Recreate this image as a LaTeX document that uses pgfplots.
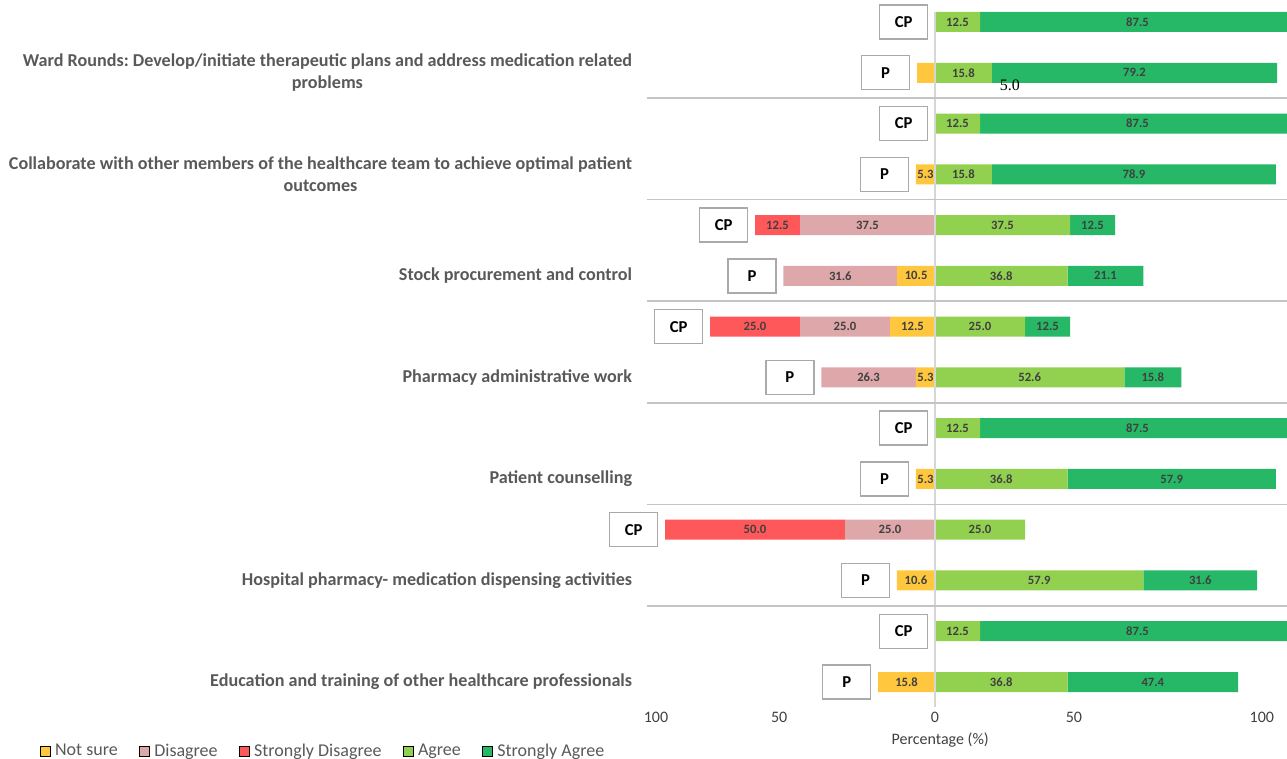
\documentclass[border=0pt]{standalone}
\usepackage{pgfplots}
\pgfplotsset{compat=1.18}
\usepackage{pgfplotstable}
\usepackage{fontspec}
\setmainfont{Carlito}
\newfontfamily\seriffont{Liberation Serif}
\frenchspacing

\definecolor{notsure}{RGB}{255,199,62}
\definecolor{disagree}{RGB}{222,167,169}
\definecolor{sdisagree}{RGB}{255,88,90}
\definecolor{agree}{RGB}{146,208,80}
\definecolor{sagree}{RGB}{38,184,102}
\definecolor{labgray}{RGB}{89,89,89}
\definecolor{valgray}{RGB}{64,64,64}
\definecolor{sepgray}{RGB}{196,196,196}
\definecolor{zerogray}{RGB}{214,214,214}
\definecolor{boxgray}{RGB}{170,170,170}

% one row per bar, counted from the bottom: even y = P, odd y = CP
\pgfplotstableread{
y   NS    D     SD
0   15.8  0     0
1   0     0     0
2   10.6  0     0
3   0     25.0  50.0
4   5.3   0     0
5   0     0     0
6   5.3   26.3  0
7   12.5  25.0  25.0
8   10.5  31.6  0
9   0     37.5  12.5
10  5.3   0     0
11  0     0     0
12  5.0   0     0
13  0     0     0
}\leftdata

\pgfplotstableread{
y   A     SA
0   36.8  47.4
1   12.5  87.5
2   57.9  31.6
3   25.0  0
4   36.8  57.9
5   12.5  87.5
6   52.6  15.8
7   25.0  12.5
8   36.8  21.1
9   37.5  12.5
10  15.8  78.9
11  12.5  87.5
12  15.8  79.2
13  12.5  87.5
}\rightdata

% group boxes, right edge at the left end of each bar
\pgfplotstableread{
y   x      lab
0   -15.8  P
1   0      CP
2   -10.6  P
3   -75.0  CP
4   -5.3   P
5   0      CP
6   -31.6  P
7   -62.5  CP
8   -42.1  P
9   -50.0  CP
10  -5.3   P
11  0      CP
12  -5.0   P
13  0      CP
}\boxdata

\pgfplotsset{
  /pgf/number format/assume math mode=true,
  % the axis runs past the right edge of the page, which crops the 100 bars
  frame/.style={
    at={(485.25pt,39pt)}, anchor=south west,
    scale only axis, width=491.4pt, height=521.25pt,
    xmin=-80, xmax=102, ymin=-0.492, ymax=13.197,
  },
  bars/.style={
    frame, hide axis,
    xbar stacked, bar width=15pt,
    point meta=explicit,
    nodes near coords={\pgfmathfloatifflags{\pgfplotspointmeta}{0}{}{\pgfmathprintnumber[fixed,fixed zerofill,precision=1]{\pgfplotspointmeta}}},
    nodes near coords style={font=\bfseries\fontsize{9.5}{11}\selectfont, text=valgray},
  },
}

\begin{document}
\begin{tikzpicture}
% left half: not sure, disagree, strongly disagree
\begin{axis}[bars]
  % the thin 5.0 segment (y=12) has its label outside the bar
  \addplot[fill=notsure, draw=none]
    table[x expr=-\thisrow{NS}, y=y, meta expr={\thisrow{NS}*(\thisrow{y}!=12)}] {\leftdata};
  \addplot[fill=disagree, draw=none]
    table[x expr=-\thisrow{D}, y=y, meta=D] {\leftdata};
  \addplot[fill=sdisagree, draw=none]
    table[x expr=-\thisrow{SD}, y=y, meta=SD] {\leftdata};
\end{axis}
% right half: agree, strongly agree
\begin{axis}[bars]
  \addplot[fill=agree, draw=none]
    table[x=A, y=y, meta=A] {\rightdata};
  \addplot[fill=sagree, draw=none]
    table[x=SA, y=y, meta=SA] {\rightdata};
\end{axis}
% frame: labels, separators, zero line, boxes, legend
\begin{axis}[frame,
    axis line style={draw=none}, major tick length=0pt,
    xtick={-77.5,-43.3,0,38.6,90.8}, xticklabels={100,50,0,50,100},
    xticklabel style={font=\fontsize{12}{14}\selectfont, text=valgray},
    extra x ticks={0}, extra x tick labels={},
    extra x tick style={grid=major, major grid style={draw=zerogray, line width=1.1pt}},
    ytick={0,2,...,12},
    yticklabels={
      {Education and training of other healthcare professionals},
      {Hospital pharmacy- medication dispensing activities},
      {Patient counselling},
      {Pharmacy administrative work},
      {Stock procurement and control},
      {Collaborate with other members of the healthcare team to achieve optimal patient\\outcomes},
      {Ward Rounds: Develop/initiate therapeutic plans and address medication related\\problems}},
    yticklabel style={font=\bfseries\fontsize{13.6}{16.5}\selectfont, text=labgray,
      align=center, anchor=east, inner sep=0pt, xshift=-11pt},
    extra y ticks={1.5,3.5,...,11.5}, extra y tick labels={},
    extra y tick style={grid=major, major grid style={draw=sepgray, line width=1.1pt}},
    xlabel={Percentage (\%)},
    xlabel style={at={(axis description cs:0.4475,-0.0475)}, anchor=center,
      font=\fontsize{12}{14}\selectfont, text=valgray},
    legend columns=5,
    legend image code/.code={\fill[#1] (0pt,-3.75pt) rectangle (7.5pt,3.75pt);},
    legend style={at={(axis description cs:-0.927,-0.0633)}, anchor=west,
      draw=none, fill=none, inner sep=0pt,
      font=\fontsize{13.5}{15}\selectfont, text=labgray,
      nodes={inner sep=0pt, inner xsep=3.5pt},
      /tikz/every even column/.append style={column sep=12.5pt}},
  ]
  \addlegendimage{fill=notsure}
  \addlegendimage{fill=disagree}
  \addlegendimage{fill=sdisagree}
  \addlegendimage{fill=agree}
  \addlegendimage{fill=sagree}
  \legend{Not sure, Disagree, Strongly Disagree, Agree, Strongly Agree}
  \addplot[forget plot, draw=none, mark=none, nodes near coords, point meta=explicit symbolic,
    nodes near coords style={anchor=east, xshift=-5pt, draw=boxgray, line width=1.1pt,
      fill=white, minimum width=36pt, minimum height=25.5pt, inner sep=0pt,
      font=\bfseries\fontsize{12.5}{14}\selectfont, text=black}]
    table[x=x, y=y, meta=lab] {\boxdata};
  \node[font=\seriffont\fontsize{12}{14}\selectfont] at (axis cs:20.8,11.76) {5.0};
\end{axis}
\pgfresetboundingbox
\useasboundingbox (0,0) rectangle (965.25pt,569.25pt);
\end{tikzpicture}
\end{document}
